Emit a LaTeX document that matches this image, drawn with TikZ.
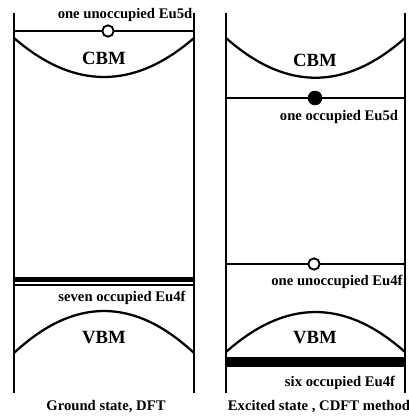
\documentclass[tikz,border=0pt]{standalone}
\usepackage{fontspec}
\setmainfont{Liberation Serif}
\usetikzlibrary{positioning}
\tikzset{
  wall/.style={line width=1.7pt},
  level/.style={line width=1.7pt},
  band/.style={line width=1.7pt},
  label/.style={font=\fontsize{11}{13}\selectfont\bfseries,inner sep=0pt},
  bandname/.style={font=\fontsize{14}{16}\selectfont\bfseries,inner sep=0pt},
  hole/.style={draw,circle,fill=white,line width=1.4pt,minimum size=8.5pt,inner sep=0pt},
  electron/.style={draw,circle,fill=black,minimum size=10.5pt,inner sep=0pt}
}

\begin{document}
\begin{tikzpicture}[x=0.75pt,y=-0.75pt]
	\useasboundingbox (0,0) rectangle (409,420);

	% left panel: ground state
	\coordinate (left_nw) at (14,13);
	\coordinate (left_sw) at (14,393);
	\coordinate (left_ne) at (194,13);
	\coordinate (left_se) at (194,393);
	\draw[wall] (left_nw) -- (left_sw);
	\draw[wall] (left_ne) -- (left_se);

	\coordinate (left_d_w) at (14,31);
	\coordinate (left_d_e) at (194,31);
	\draw[level] (left_d_w) -- (left_d_e);
	\node[hole] (left_d_hole) at (108,31) {};
	\node[label] (left_d_text) at (125,15) {one unoccupied Eu5d};

	\coordinate (left_cbm_w) at (14,38);
	\coordinate (left_cbm_e) at (194,38);
	\draw[band] (left_cbm_w) .. controls (74,90) and (134,90) .. (left_cbm_e);
	\node[bandname] (left_cbm) at (104,58) {CBM};

	\coordinate (left_f_w) at (14,279.8);
	\coordinate (left_f_e) at (194,279.8);
	\draw[line width=3.8pt] (left_f_w) -- (left_f_e);
	\coordinate (left_f2_w) at (14,284.8);
	\coordinate (left_f2_e) at (194,284.8);
	\draw[line width=1.2pt] (left_f2_w) -- (left_f2_e);
	\node[label] (left_f_text) at (122,298) {seven occupied Eu4f};

	\coordinate (left_vbm_w) at (14,353);
	\coordinate (left_vbm_e) at (194,353);
	\draw[band] (left_vbm_w) .. controls (74,297) and (134,297) .. (left_vbm_e);
	\node[bandname] (left_vbm) at (104,338) {VBM};

	\node[label] (left_caption) at (106,407) {Ground state, DFT};

	% right panel: excited state
	\coordinate (right_nw) at (226,13);
	\coordinate (right_sw) at (226,393);
	\coordinate (right_ne) at (405,13);
	\coordinate (right_se) at (405,393);
	\draw[wall] (right_nw) -- (right_sw);
	\draw[wall] (right_ne) -- (right_se);

	\coordinate (right_cbm_w) at (226,38);
	\coordinate (right_cbm_e) at (405,38);
	\draw[band] (right_cbm_w) .. controls (286,91) and (345,91) .. (right_cbm_e);
	\node[bandname] (right_cbm) at (315,60) {CBM};

	\coordinate (right_d_w) at (226,98);
	\coordinate (right_d_e) at (405,98);
	\draw[level] (right_d_w) -- (right_d_e);
	\node[electron] (right_d_dot) at (315,98) {};
	\node[label] (right_d_text) at (339,117) {one occupied Eu5d};

	\coordinate (right_f_w) at (226,264);
	\coordinate (right_f_e) at (405,264);
	\draw[level] (right_f_w) -- (right_f_e);
	\node[hole] (right_f_hole) at (314,264) {};
	\node[label] (right_f_text) at (337,282) {one unoccupied Eu4f};

	\coordinate (right_vbm_w) at (226,352);
	\coordinate (right_vbm_e) at (405,352);
	\draw[band] (right_vbm_w) .. controls (286,298.7) and (345,298.7) .. (right_vbm_e);
	\node[bandname] (right_vbm) at (315,338) {VBM};

	\coordinate (right_g_w) at (226,361.7);
	\coordinate (right_g_e) at (405,361.7);
	\draw[line width=7.2pt] (right_g_w) -- (right_g_e);
	\node[label] (right_g_text) at (340,383) {six occupied Eu4f};

	\node[label] (right_caption) at (319,407) {Excited state , CDFT method};

\end{tikzpicture}
\end{document}
